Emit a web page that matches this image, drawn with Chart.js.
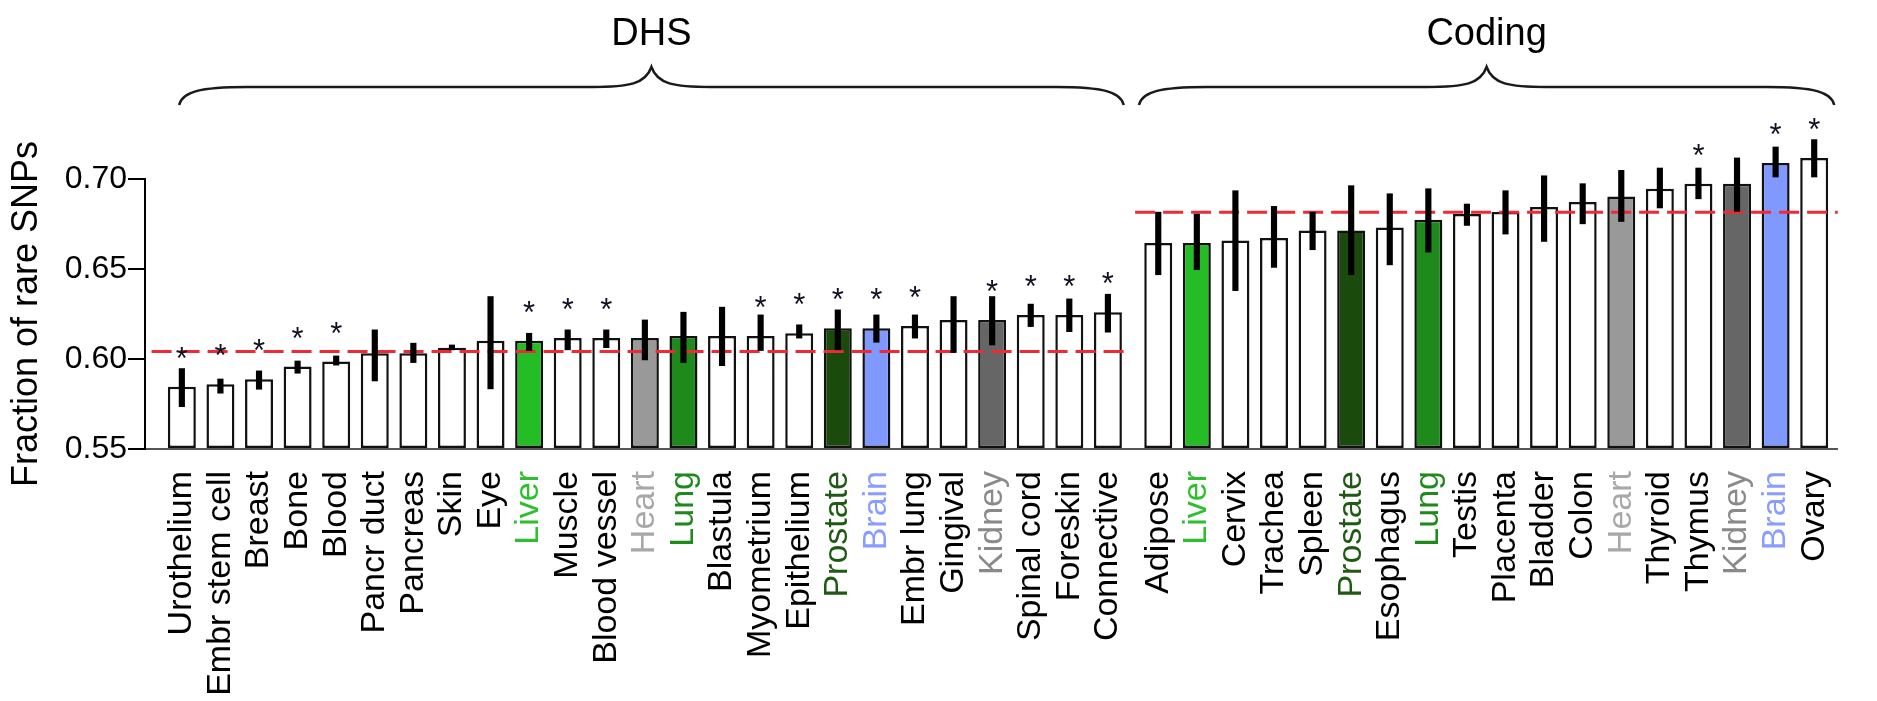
<!DOCTYPE html>
<html><head><meta charset="utf-8">
<script src="https://cdn.jsdelivr.net/npm/chart.js@4/dist/chart.umd.min.js"></script>
<style>html,body{margin:0;padding:0;background:#fff;overflow:hidden}</style>
</head><body>
<canvas id="c" width="1877" height="701"></canvas>
<script>
// ---------------- data ----------------
const groupNames = ['DHS', 'Coding'];
const dhsTissues = ['Urothelium','Embr stem cell','Breast','Bone','Blood','Pancr duct','Pancreas','Skin','Eye','Liver','Muscle','Blood vessel','Heart','Lung','Blastula','Myometrium','Epithelium','Prostate','Brain','Embr lung','Gingival','Kidney','Spinal cord','Foreskin','Connective'];
const dhsValues  = [0.5846,0.5860,0.5888,0.5958,0.5986,0.6032,0.6032,0.6063,0.6102,0.6102,0.6116,0.6116,0.6116,0.6128,0.6128,0.6128,0.6143,0.6171,0.6171,0.6184,0.6217,0.6217,0.6245,0.6245,0.6260];
const dhsErrLow  = [0.5735,0.5810,0.5832,0.5921,0.5966,0.5878,0.5980,0.6051,0.5834,0.6047,0.6051,0.6063,0.5995,0.5980,0.5963,0.6047,0.6116,0.6051,0.6093,0.6116,0.6036,0.6078,0.6180,0.6152,0.6149];
const dhsErrHigh = [0.5947,0.5889,0.5934,0.5989,0.6017,0.6162,0.6088,0.6078,0.6347,0.6143,0.6162,0.6162,0.6217,0.6260,0.6288,0.6245,0.6190,0.6273,0.6245,0.6245,0.6347,0.6347,0.6305,0.6334,0.6360];
const dhsSignificant = [1,1,1,1,1,0,0,0,0,1,1,1,0,0,0,1,1,1,1,1,0,1,1,1,1];

const codingTissues = ['Adipose','Liver','Cervix','Trachea','Spleen','Prostate','Esophagus','Lung','Testis','Placenta','Bladder','Colon','Heart','Thyroid','Thymus','Kidney','Brain','Ovary'];
const codingValues  = [0.6644,0.6644,0.6659,0.6672,0.6714,0.6714,0.6731,0.6774,0.6805,0.6816,0.6844,0.6872,0.6903,0.6946,0.6974,0.6974,0.7089,0.7117];
const codingErrLow  = [0.6468,0.6496,0.6380,0.6509,0.6607,0.6468,0.6523,0.6594,0.6742,0.6694,0.6653,0.6751,0.6764,0.6839,0.6890,0.6820,0.7011,0.7011];
const codingErrHigh = [0.6816,0.6805,0.6935,0.6848,0.6816,0.6963,0.6918,0.6946,0.6861,0.6935,0.7018,0.6974,0.7048,0.7061,0.7061,0.7117,0.7178,0.7219];
const codingSignificant = [0,0,0,0,0,0,0,0,0,0,0,0,0,0,1,0,1,1];

const groupMeans = [0.6041, 0.6815];
const yTickValues = [0.55, 0.60, 0.65, 0.70];
const yAxisTitle = 'Fraction of rare SNPs';

// ---------------- styles ----------------
const FONT = '"Liberation Sans", Arial, Helvetica, sans-serif';
const tissueColors = {
  Liver: '#25bd25', Lung: '#1f8a1c', Prostate: '#1a4a0c',
  Brain: '#8099ff', Heart: '#999999', Kidney: '#666666'
};
const labelColors = {
  Liver: '#2dbf2d', Lung: '#1f8a1c', Prostate: '#1f5a14',
  Brain: '#8a9cff', Heart: '#a8a8a8', Kidney: '#8a8a8a'
};
const GROUP_GAP = 0.305;      // extra space between the two groups (in bar slots)
const LEFT_PAD_SLOTS = 0.955;
const RIGHT_PAD_SLOTS = 0.61;

// ---------------- derived ----------------
const allTissues = dhsTissues.concat(codingTissues);
const allValues = dhsValues.concat(codingValues);
const allLow = dhsErrLow.concat(codingErrLow);
const allHigh = dhsErrHigh.concat(codingErrHigh);
const allSig = dhsSignificant.concat(codingSignificant);
const nD = dhsTissues.length;
const xPos = allTissues.map((_, i) => i < nD ? i : i + GROUP_GAP);
const xMin = xPos[0] - LEFT_PAD_SLOTS;
const xMax = xPos[xPos.length - 1] + RIGHT_PAD_SLOTS;
const fillFor = name => tissueColors[name] || '#ffffff';
const textFor = name => labelColors[name] || '#000000';

const barData = allValues.map((v, i) => ({x: xPos[i], y: v}));
const errData = allValues.map((v, i) => ({x: xPos[i], y: [allLow[i], allHigh[i]]}));
const groupRanges = [[0, nD - 1], [nD, allTissues.length - 1]];
const meanLines = [
  [{x: xPos[0] - 0.785, y: groupMeans[0]}, {x: xPos[nD - 1] + 0.51, y: groupMeans[0]}],
  [{x: xPos[nD] - 0.6, y: groupMeans[1]}, {x: xMax, y: groupMeans[1]}]
];

function drawBrace(ctx, x0, x1, yEnd, yFlat, yPeak) {
  const mid = (x0 + x1) / 2;
  ctx.beginPath();
  ctx.moveTo(x0, yEnd);
  ctx.bezierCurveTo(x0 + 3, yFlat + 5, x0 + 20, yFlat, x0 + 68, yFlat);
  ctx.lineTo(mid - 60, yFlat);
  ctx.bezierCurveTo(mid - 22, yFlat, mid - 6, yFlat - 3, mid, yPeak);
  ctx.bezierCurveTo(mid + 6, yFlat - 3, mid + 22, yFlat, mid + 60, yFlat);
  ctx.lineTo(x1 - 68, yFlat);
  ctx.bezierCurveTo(x1 - 20, yFlat, x1 - 3, yFlat + 5, x1, yEnd);
  ctx.stroke();
}

const decor = {
  id: 'decor',
  afterDatasetsDraw(chart) {
    const ctx = chart.ctx;
    const meta = chart.getDatasetMeta(0);
    ctx.save();
    ctx.fillStyle = '#111122';
    ctx.font = '31px ' + FONT;
    ctx.textAlign = 'center';
    ctx.textBaseline = 'alphabetic';
    allSig.forEach((s, i) => {
      if (!s) return;
      const el = meta.data[i];
      ctx.fillText('*', el.x, el.y - 36 + 18);
    });
    ctx.restore();
  },
  afterDraw(chart) {
    const ctx = chart.ctx;
    const xs = chart.scales.x;
    ctx.save();
    ctx.strokeStyle = '#1a1a1a';
    ctx.lineWidth = 2.5;
    ctx.fillStyle = '#000';
    ctx.font = '38px ' + FONT;
    ctx.textAlign = 'center';
    ctx.textBaseline = 'alphabetic';
    const spans = [
      [xs.getPixelForValue(xPos[groupRanges[0][0]] - 0.07), xs.getPixelForValue(xPos[groupRanges[0][1]] + 0.41)],
      [xs.getPixelForValue(xPos[groupRanges[1][0]] - 0.5), xs.getPixelForValue(xPos[groupRanges[1][1]] + 0.52)]
    ];
    spans.forEach((sp, g) => {
      drawBrace(ctx, sp[0], sp[1], 105, 87, 67);
      ctx.fillText(groupNames[g], (sp[0] + sp[1]) / 2, 45);
    });
    ctx.restore();
  }
};

Chart.defaults.font.family = FONT;
Chart.defaults.color = '#000';

new Chart(document.getElementById('c'), {
  type: 'bar',
  data: {
    datasets: [
      {
        type: 'bar', data: barData, grouped: false, order: 3, clip: false,
        base: yTickValues[0],
        backgroundColor: allTissues.map(fillFor), borderColor: '#111', borderWidth: 2.5,
        borderSkipped: false, barPercentage: 0.725, categoryPercentage: 1
      },
      {
        type: 'line', data: meanLines[0], order: 2, borderColor: '#ee2a36', borderWidth: 3,
        borderDash: [20, 8], pointRadius: 0, fill: false, clip: false
      },
      {
        type: 'line', data: meanLines[1], order: 2, borderColor: '#ee2a36', borderWidth: 3,
        borderDash: [20, 8], pointRadius: 0, fill: false, clip: false
      },
      {
        type: 'bar', data: errData, grouped: false, order: 1, clip: false,
        backgroundColor: '#000', borderWidth: 0, barThickness: 5.5
      }
    ]
  },
  options: {
    responsive: false, animation: false, devicePixelRatio: 1,
    layout: {padding: {top: 179, left: 0, right: 0, bottom: 0}},
    plugins: {legend: {display: false}, tooltip: {enabled: false}},
    scales: {
      x: {
        type: 'linear', min: xMin, max: xMax, offset: false,
        afterBuildTicks: s => { s.ticks = xPos.map(v => ({value: v})); },
        afterFit: s => { s.height = 252; },
        grid: {display: false, drawTicks: false},
        border: {display: true, color: '#555', width: 2},
        ticks: {
          autoSkip: false, minRotation: 90, maxRotation: 90, padding: 22,
          font: {size: 34},
          color: c => textFor(allTissues[c.index]),
          callback: (v, i) => allTissues[i]
        }
      },
      y: {
        type: 'linear', min: yTickValues[0], max: yTickValues[yTickValues.length - 1],
        afterBuildTicks: s => { s.ticks = yTickValues.map(v => ({value: v})); },
        afterFit: s => { s.width = 145; },
        grid: {display: true, drawOnChartArea: false, drawTicks: true, tickLength: 17, color: '#000', lineWidth: 2},
        border: {display: true, color: '#000', width: 2},
        ticks: {font: {size: 32}, padding: 1, color: '#000', callback: v => Number(v).toFixed(2)},
        title: {display: true, text: yAxisTitle, font: {size: 36}, color: '#000', padding: {top: 5, bottom: 0}}
      }
    }
  },
  plugins: [decor]
});
</script>
</body></html>
